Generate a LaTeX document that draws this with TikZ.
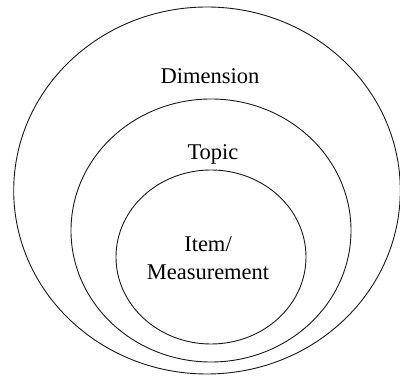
\documentclass[tikz,border=0pt]{standalone}
\usepackage{fontspec}
\setmainfont{Liberation Serif}
\begin{document}
\begin{tikzpicture}[x=1pt,y=-1pt,
  ring/.style={draw=black!90,line width=0.9pt},
  lbl/.style={font=\fontsize{22.5}{27.7}\selectfont,inner sep=0pt,align=center}]
\useasboundingbox (0,0) rectangle (400,382);
\draw[ring] (207,190.5) ellipse [x radius=193.3, y radius=183.5];
\draw[ring] (211,230.5) ellipse [x radius=140, y radius=131.5];
\draw[ring] (211,257) ellipse [x radius=95, y radius=87];
\node[lbl,anchor=base] (dim) at (210,84) {Dimension};
\node[lbl,anchor=base] (top) at (213,159.5) {Topic};
\node[lbl,anchor=center] (item) at (208,258.4) {Item/\\Measurement};
\end{tikzpicture}
\end{document}
